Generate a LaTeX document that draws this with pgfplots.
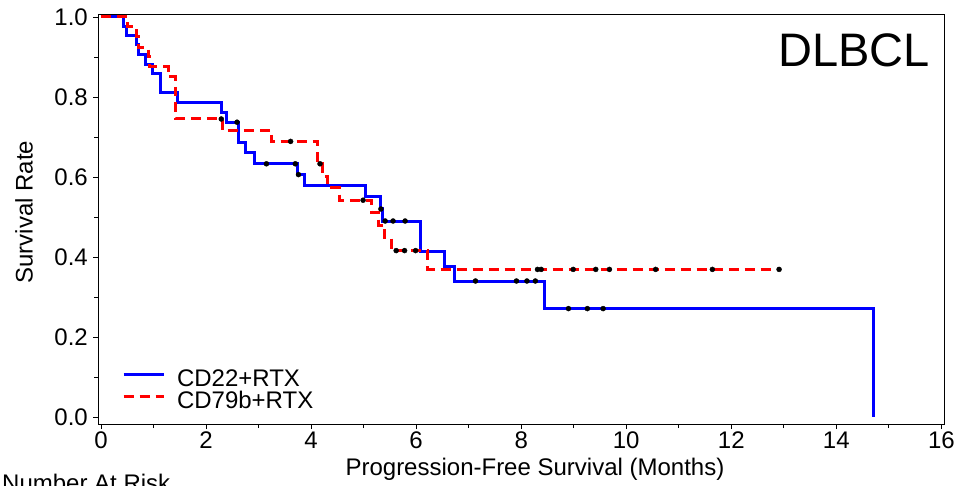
\documentclass[border=0pt]{standalone}
\usepackage{fontspec}
\setmainfont{Liberation Sans}
\usepackage{pgfplots}
\pgfplotsset{compat=1.18}
\definecolor{kmblue}{RGB}{0,0,255}
\definecolor{kmred}{RGB}{255,0,0}
\begin{document}
\begin{tikzpicture}
\begin{axis}[
  at={(0pt,0pt)}, anchor=south west,
  scale only axis, width=846pt, height=410pt,
  xmin=-0.057, xmax=16.05, ymin=-0.0175, ymax=1.0075,
  axis line style={black, line width=0.8pt},
  tick pos=left, tick align=outside,
  major tick length=5pt, minor tick length=4pt,
  every tick/.style={black, line width=0.8pt},
  xtick={0,2,4,6,8,10,12,14,16}, minor xtick={1,3,5,7,9,11,13,15},
  ytick={0,0.2,0.4,0.6,0.8,1.0}, minor ytick={0.1,0.3,0.5,0.7,0.9},
  /pgf/number format/assume math mode=true,
  yticklabel style={/pgf/number format/fixed, /pgf/number format/fixed zerofill, /pgf/number format/precision=1},
  tick label style={font=\fontsize{24}{28}\selectfont},
  xticklabel style={anchor=north, inner sep=0pt, yshift=-3pt},
  yticklabel style={anchor=east, inner sep=0pt, xshift=-5pt},
  label style={font=\fontsize{24}{28}\selectfont},
  xlabel={Progression-Free Survival (Months)},
  xlabel style={at={(axis description cs:0.5165,-0.1244)}, anchor=base, inner sep=0pt},
  ylabel={Survival Rate},
  ylabel style={at={(axis description cs:-0.0875,0.517)}, anchor=center, inner sep=0pt},
  legend style={draw=none, fill=none, inner sep=0pt, outer sep=0pt,
    at={(axis description cs:0.0284,0.0268)}, anchor=south west,
    font=\fontsize{24}{28}\selectfont, column sep=12pt, row sep=0pt,
    nodes={inner sep=0pt, text height=17pt, text depth=5pt}},
  legend cell align=left,
  legend image code/.code={\draw[#1] (0pt,6pt) -- (40pt,6pt);},
  clip=false,
]
% CD22+RTX
\addplot[const plot, color=kmblue, line width=3pt] coordinates {
(0,1.000) (0.42,0.976) (0.49,0.953) (0.68,0.930) (0.72,0.905) (0.84,0.880)
(0.99,0.858) (1.14,0.810) (1.46,0.785) (2.29,0.760) (2.38,0.737) (2.61,0.685)
(2.75,0.660) (2.92,0.633) (3.74,0.606) (3.88,0.579) (5.03,0.550) (5.33,0.520)
(5.36,0.490) (6.08,0.415) (6.54,0.376) (6.73,0.340) (8.44,0.271) (14.70,0.271)
(14.70,0.000)};
\addlegendentry{CD22+RTX}
% CD79b+RTX
\addplot[const plot, color=kmred, line width=3pt, dash pattern=on 10pt off 6pt] coordinates {
(0,1.000) (0.51,0.975) (0.68,0.950) (0.71,0.923) (0.90,0.900) (0.93,0.876)
(1.28,0.851) (1.41,0.820) (1.42,0.745) (2.31,0.717) (3.24,0.689) (4.13,0.633)
(4.22,0.600) (4.32,0.573) (4.54,0.542) (5.15,0.511) (5.28,0.479) (5.40,0.448)
(5.53,0.416) (6.22,0.369) (12.91,0.369)};
\addlegendentry{CD79b+RTX}
% censor marks
\addplot[forget plot, only marks, mark=*, mark size=2.5pt, black] coordinates {
(2.59,0.737) (3.15,0.633) (3.70,0.633) (3.76,0.606) (5.33,0.520)
(5.41,0.490) (5.56,0.490) (5.79,0.490)
(7.13,0.340) (7.91,0.340) (8.11,0.340) (8.27,0.340)
(8.90,0.271) (9.26,0.271) (9.56,0.271)};
\addplot[forget plot, only marks, mark=*, mark size=2.5pt, black] coordinates {
(2.29,0.745) (3.61,0.689) (4.17,0.633) (4.99,0.542)
(5.62,0.416) (5.78,0.416) (5.99,0.416)
(8.31,0.369) (8.38,0.369) (8.99,0.369) (9.42,0.369) (9.68,0.369)
(10.56,0.369) (11.64,0.369) (12.91,0.369)};
\node[font=\fontsize{47}{50}\selectfont, inner sep=0pt, anchor=center]
  at (axis description cs:0.8936,0.912) {DLBCL};
\end{axis}
\node[font=\fontsize{24}{28}\selectfont, inner sep=0pt, anchor=base west] at (-96pt,-67pt) {Number At Risk};
\pgfresetboundingbox
\useasboundingbox (-98pt,-61pt) rectangle (858pt,424pt);
\end{tikzpicture}
\end{document}
